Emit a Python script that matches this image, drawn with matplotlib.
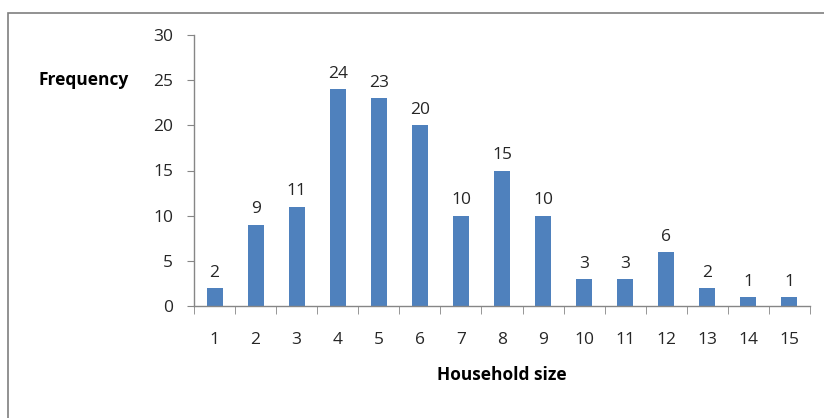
import matplotlib.pyplot as plt
from matplotlib.patches import Rectangle
import numpy as np

household_size = [str(i) for i in range(1, 16)]
frequency = [2, 9, 11, 24, 23, 20, 10, 15, 10, 3, 3, 6, 2, 1, 1]

bar_color = '#4F81BD'
axis_color = '#868686'
text_color = '#262626'

plt.rcParams['font.family'] = ['Open Sans', 'DejaVu Sans']

fig = plt.figure(figsize=(8.24, 4.18), dpi=100)
ax = fig.add_axes([194 / 824, 1 - 306 / 418, (810 - 194) / 824, (306 - 35) / 418])

# chart area frame
fig.patches.append(Rectangle((8 / 824, -0.05), 1.0, 1 - 13 / 418 + 0.05,
                             transform=fig.transFigure, fill=False,
                             edgecolor='#7f7f7f', linewidth=1.2))

x = np.arange(len(household_size))
bars = ax.bar(x, frequency, width=0.39, color=bar_color)
for xi, v in zip(x, frequency):
    ax.text(xi, v + 0.8, str(v), ha='center', va='bottom', fontsize=12.5, color=text_color)

ax.set_xlim(-0.5, len(x) - 0.5)
ax.set_ylim(0, 30)
ax.set_yticks(range(0, 31, 5))
ax.set_xticks(x)
ax.set_xticklabels(household_size)
ax.set_xticks(np.arange(-0.5, len(x), 1.0), minor=True)

for side in ['top', 'right']:
    ax.spines[side].set_visible(False)
for side in ['left', 'bottom']:
    ax.spines[side].set_color(axis_color)
    ax.spines[side].set_linewidth(1.0)

ax.tick_params(axis='y', direction='out', length=5, color=axis_color, labelsize=12.5,
               labelcolor=text_color, pad=10)
ax.tick_params(axis='x', which='major', length=0, labelsize=12.5, labelcolor=text_color, pad=19)
ax.tick_params(axis='x', which='minor', direction='out', length=6, color=axis_color)

fig.text(38 / 824, 1 - 80 / 418, 'Frequency', ha='left', va='center',
         fontsize=12.5, fontweight='bold', color='black')
fig.text(502 / 824, 1 - 375 / 418, 'Household size', ha='center', va='center',
         fontsize=12.5, fontweight='bold', color='black')

fig.savefig('out.png', dpi=100)
